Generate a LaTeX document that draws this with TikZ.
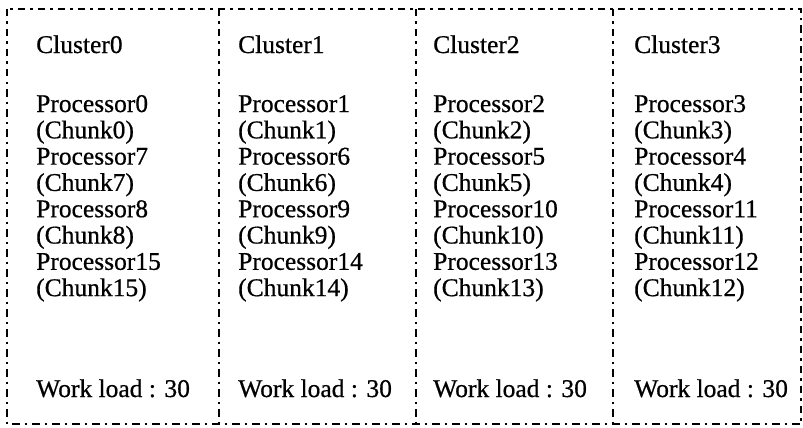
\documentclass[tikz,border=0pt]{standalone}
\usepackage{fontspec}
\setmainfont{Liberation Serif}[BoldFont={Liberation Serif},BoldFeatures={FakeBold=0.6}]
\begin{document}
\begin{tikzpicture}[x=1pt,y=-1pt,
  frame/.style={line width=2.8pt,dash pattern=on 7.5pt off 5pt on 2.5pt off 5pt},
  txt/.style={anchor=base west,inner sep=0pt,font=\fontsize{25.5}{26}\selectfont\bfseries}]
\useasboundingbox (0,0) rectangle (803,428);
% outer frame and column separators
\draw[frame] (7,9) rectangle (801,424);
\foreach \x in {219,416,613} \draw[frame] (\x,9) -- (\x,424);
% column contents
\foreach \c/\x/\pa/\pb/\pc/\pd in {0/36/0/7/8/15, 1/238/1/6/9/14, 2/433/2/5/10/13, 3/634/3/4/11/12}{
  \node[txt] (title\c) at (\x,53) {Cluster\c};
  \node[txt] (p\c a) at (\x,112) {Processor\pa};
  \node[txt] (k\c a) at (\x,138.3) {(Chunk\pa)};
  \node[txt] (p\c b) at (\x,164.6) {Processor\pb};
  \node[txt] (k\c b) at (\x,190.9) {(Chunk\pb)};
  \node[txt] (p\c c) at (\x,217.2) {Processor\pc};
  \node[txt] (k\c c) at (\x,243.5) {(Chunk\pc)};
  \node[txt] (p\c d) at (\x,269.8) {Processor\pd};
  \node[txt] (k\c d) at (\x,296.1) {(Chunk\pd)};
  \node[txt] (load\c) at (\x,397) {Work load : 30};
}
\end{tikzpicture}
\end{document}
